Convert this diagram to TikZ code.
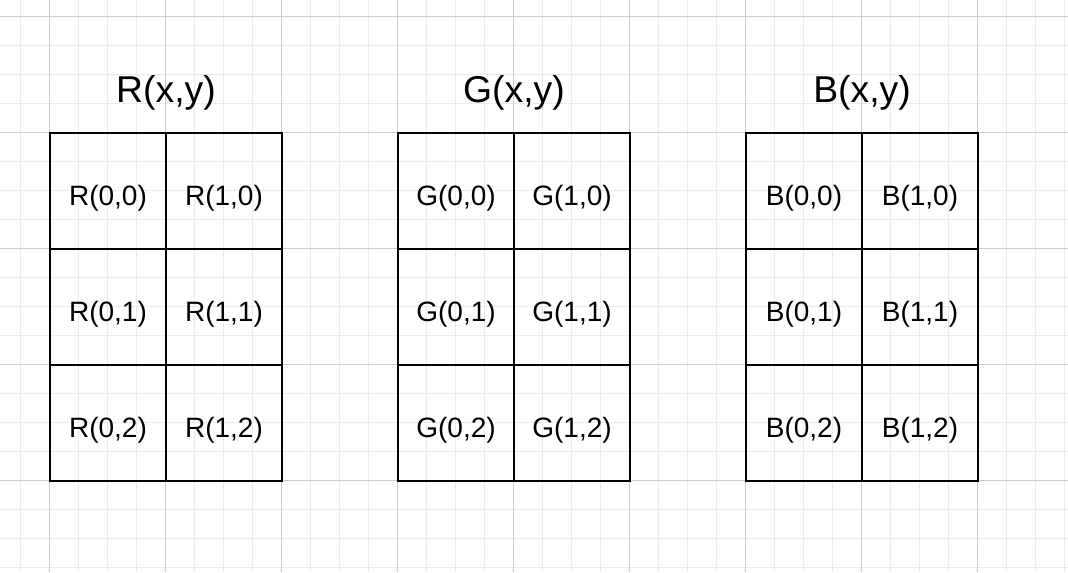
\documentclass[tikz,border=0pt]{standalone}
\usepackage{fontspec}
\setmainfont{Liberation Sans}
\begin{document}
\begin{tikzpicture}[x=0.75pt,y=-0.75pt,
  cell/.style={draw=black,line width=1.6pt,minimum width=87pt,minimum height=87pt,inner sep=0,font=\fontsize{21}{24}\selectfont},
  lbl/.style={font=\fontsize{21}{24}\selectfont,inner sep=0},
  ttl/.style={font=\fontsize{28}{32}\selectfont}]
\useasboundingbox (0,0) rectangle (1068,572);
\fill[white] (0,0) rectangle (1068,572);
\foreach \i in {-10,...,40} {
  \pgfmathsetmacro\xx{49+29*\i}
  \draw[black!8,line width=0.75pt] (\xx,0) -- (\xx,572);
  \pgfmathsetmacro\yy{16+29*\i}
  \draw[black!8,line width=0.75pt] (0,\yy) -- (1068,\yy);
}
\foreach \i in {-1,...,10} {
  \pgfmathsetmacro\xx{49+116*\i}
  \draw[black!20,line width=0.75pt] (\xx,0) -- (\xx,572);
  \pgfmathsetmacro\yy{16+116*\i}
  \draw[black!20,line width=0.75pt] (0,\yy) -- (1068,\yy);
}
\foreach \L/\xo in {R/50,G/398,B/746} {
  \node[ttl] (t\L) at (\xo+116,93) {\L(x,y)};
  \foreach \c in {0,1} \foreach \r in {0,1,2} {
    \node[cell] (\L\c\r) at (\xo+58+116*\c,191+116*\r) {};
    \node[lbl] (l\L\c\r) at (\xo+58+116*\c,198+116*\r) {\L(\c,\r)};
  }
}
\end{tikzpicture}
\end{document}
